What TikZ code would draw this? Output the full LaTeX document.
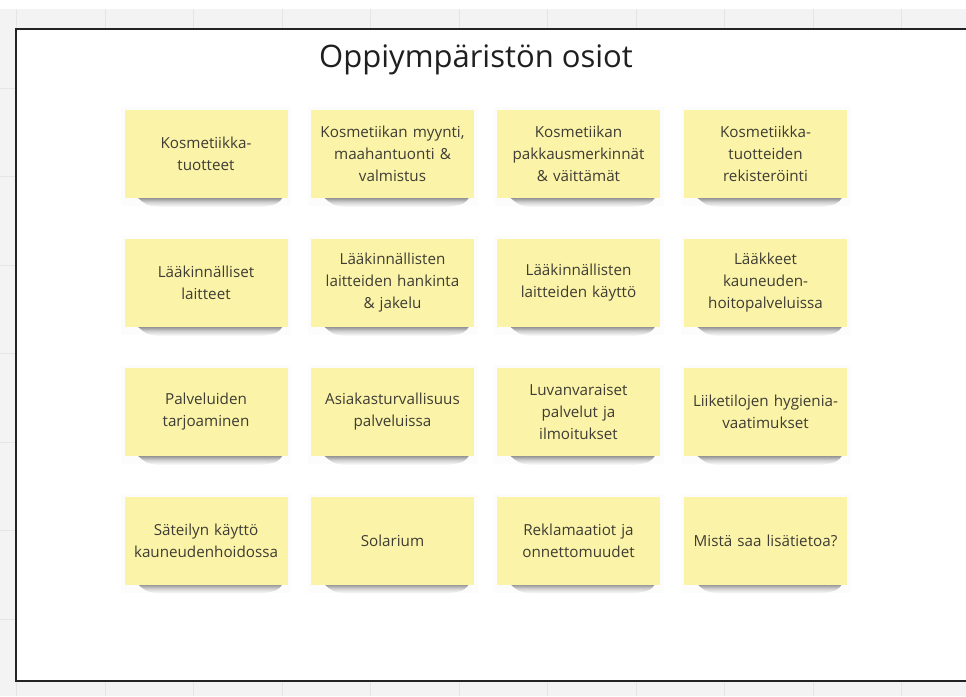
\documentclass[tikz,border=0pt]{standalone}
\usepackage{fontspec}
\setmainfont{Open Sans}
\definecolor{notey}{RGB}{251,244,168}
\definecolor{gridbg}{RGB}{243,243,243}
\definecolor{gridln}{RGB}{229,229,229}
\definecolor{txt}{RGB}{62,60,52}
\definecolor{frameblk}{RGB}{35,35,35}
\begin{document}
\begin{tikzpicture}[x=1pt,y=-1pt,
  note/.style={fill=notey, minimum width=163pt, minimum height=88pt, inner sep=0pt,
    align=center, text width=160pt, text=txt,
    font=\fontsize{15.2}{22}\selectfont},
  titletext/.style={font=\fontsize{31}{34}\selectfont, text=black!88, inner sep=0pt},
  notedrop/.style={top color=black!48, bottom color=white, middle color=black!18}]
\useasboundingbox (0,0) rectangle (966,696);
% board background with grid
\fill[white] (0,0) rectangle (966,696);
\fill[gridbg] (0,9) rectangle (966,696);
\foreach \x in {16.5,105,193.5,282,370.5,459,547.5,636,724.5,813,901.5}
  \draw[gridln, line width=0.8pt] (\x,9) -- (\x,696);
\foreach \y in {88,176.5,265,353.5,442,530.5,619}
  \draw[gridln, line width=0.8pt] (0,\y) -- (966,\y);
% frame
\draw[fill=white, draw=frameblk, line width=2.2pt] (16,29) rectangle (990,681);
% title
\node[titletext] (title) at (476,60) {Oppiympäristön osiot};
% shadows
\foreach \cx in {206,392.5,578.5,765.5}{
  \foreach \cy in {154,283,412,540.5}{
    \fill[black, opacity=0.012] (\cx-85,\cy-47) rectangle (\cx+85,\cy+52);
    \shade[notedrop]
      (\cx-69,\cy+43) -- (\cx+77,\cy+43)
      .. controls (\cx+72,\cy+50) .. (\cx+56,\cy+53)
      -- (\cx-48,\cy+53)
      .. controls (\cx-60,\cy+51) .. (\cx-69,\cy+43) -- cycle;
  }
}
% notes
\node[note] (n11) at (206,154) {Kosmetiikka-\\tuotteet};
\node[note] (n12) at (392.5,154) {Kosmetiikan myynti,\\maahantuonti \&\\valmistus};
\node[note] (n13) at (578.5,154) {Kosmetiikan\\pakkausmerkinnät\\\& väittämät};
\node[note] (n14) at (765.5,154) {Kosmetiikka-\\tuotteiden\\rekisteröinti};
\node[note] (n21) at (206,283) {Lääkinnälliset\\laitteet};
\node[note] (n22) at (392.5,283) {Lääkinnällisten\\laitteiden hankinta\\\& jakelu};
\node[note] (n23) at (578.5,283) {Lääkinnällisten\\laitteiden käyttö};
\node[note] (n24) at (765.5,283) {Lääkkeet\\kauneuden-\\hoitopalveluissa};
\node[note] (n31) at (206,412) {Palveluiden\\tarjoaminen};
\node[note] (n32) at (392.5,412) {Asiakasturvallisuus\\palveluissa};
\node[note] (n33) at (578.5,412) {Luvanvaraiset\\palvelut ja\\ilmoitukset};
\node[note] (n34) at (765.5,412) {Liiketilojen hygienia-\\vaatimukset};
\node[note] (n41) at (206,540.5) {Säteilyn käyttö\\kauneudenhoidossa};
\node[note] (n42) at (392.5,540.5) {Solarium};
\node[note] (n43) at (578.5,540.5) {Reklamaatiot ja\\onnettomuudet};
\node[note] (n44) at (765.5,540.5) {Mistä saa lisätietoa?};
\end{tikzpicture}
\end{document}
